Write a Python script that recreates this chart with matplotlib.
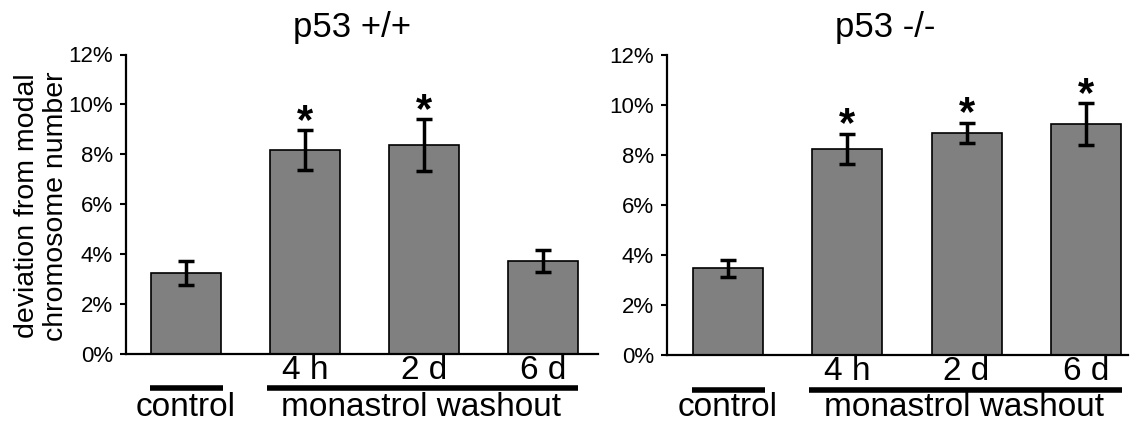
import matplotlib
matplotlib.use("Agg")
import matplotlib.pyplot as plt
import matplotlib.transforms as mtransforms

plt.rcParams['font.family'] = ['Liberation Sans', 'DejaVu Sans']

# ---- data ----
categories = ["control", "4 h", "2 d", "6 d"]
tick_labels = ["", "4 h", "2 d", "6 d"]
wt_values = [3.24, 8.17, 8.37, 3.72]
wt_errors = [0.48, 0.80, 1.03, 0.43]
wt_signif = [False, True, True, False]
ko_values = [3.47, 8.24, 8.89, 9.23]
ko_errors = [0.35, 0.61, 0.40, 0.85]
ko_signif = [False, True, True, True]
yticks = [0, 2, 4, 6, 8, 10, 12]
ytick_labels = ["0%", "2%", "4%", "6%", "8%", "10%", "12%"]
titles = ["p53 +/+", "p53 -/-"]
group_labels = ["control", "monastrol washout"]
ylabel = "deviation from modal\nchromosome number"

W, H = 1138, 424
DPI = 100
fig = plt.figure(figsize=(W / DPI, H / DPI), dpi=DPI)


def px_rect(x0, y_top, x1, y_bot):
    return [x0 / W, (H - y_bot) / H, (x1 - x0) / W, (y_bot - y_top) / H]


panels = [
    dict(rect=px_rect(126, 54.5, 598, 353.5), xlim=(-0.5025, 3.464),
         vals=wt_values, errs=wt_errors, sig=wt_signif, title=titles[0],
         title_x=352),
    dict(rect=px_rect(667, 55.0, 1128, 355.0), xlim=(-0.511, 3.353),
         vals=ko_values, errs=ko_errors, sig=ko_signif, title=titles[1],
         title_x=885.5),
]

bar_width = 0.588
for p in panels:
    ax = fig.add_axes(p['rect'])
    xs = list(range(len(categories)))
    ax.bar(xs, p['vals'], width=bar_width, color='#808080', edgecolor='black',
           linewidth=1.2, zorder=2)
    ax.errorbar(xs, p['vals'], yerr=p['errs'], fmt='none', ecolor='black',
                elinewidth=2.5, capsize=5.5, capthick=2.5, zorder=3)
    for x, v, e, s in zip(xs, p['vals'], p['errs'], p['sig']):
        if s:
            ax.annotate('*', xy=(x, v + e), xytext=(0, -2), textcoords='offset points',
                        ha='center', va='baseline', fontsize=30, fontweight='bold')
    ax.set_xlim(*p['xlim'])
    ax.set_ylim(0, 12)
    ax.set_yticks(yticks)
    ax.set_yticklabels(ytick_labels, fontsize=16)
    ax.set_xticks(xs)
    ax.set_xticklabels(tick_labels, fontsize=24)
    ax.tick_params(axis='x', length=0, pad=1)
    ax.tick_params(axis='y', length=4.5, width=1.5, direction='out', pad=5)
    for side in ['top', 'right']:
        ax.spines[side].set_visible(False)
    for side in ['left', 'bottom']:
        ax.spines[side].set_linewidth(1.6)

    trans = mtransforms.blended_transform_factory(ax.transData, ax.transAxes)
    line_y = -0.117
    ax.plot([-0.30, 0.31], [line_y, line_y], color='black', lw=4, solid_capstyle='butt',
            transform=trans, clip_on=False)
    ax.plot([0.68, 3.30], [line_y, line_y], color='black', lw=4, solid_capstyle='butt',
            transform=trans, clip_on=False)
    # baseline of group labels at pixel y=415
    bottom_px = H - p['rect'][1] * H
    ax_h_px = p['rect'][3] * H
    base_frac = -(415.5 - bottom_px) / ax_h_px
    ax.text(0, base_frac, group_labels[0], transform=trans, ha='center',
            va='baseline', fontsize=24)
    ax.text(1.98, base_frac, group_labels[1], transform=trans, ha='center',
            va='baseline', fontsize=24)

    fig.text(p['title_x'] / W, (H - 37) / H, p['title'], ha='center',
             va='baseline', fontsize=25)

fig.text(41.5 / W, (H - 206) / H, ylabel, rotation=90, ha='center', va='center',
         multialignment='center', fontsize=20.5, linespacing=1.15)

fig.savefig('out.png', dpi=DPI)
